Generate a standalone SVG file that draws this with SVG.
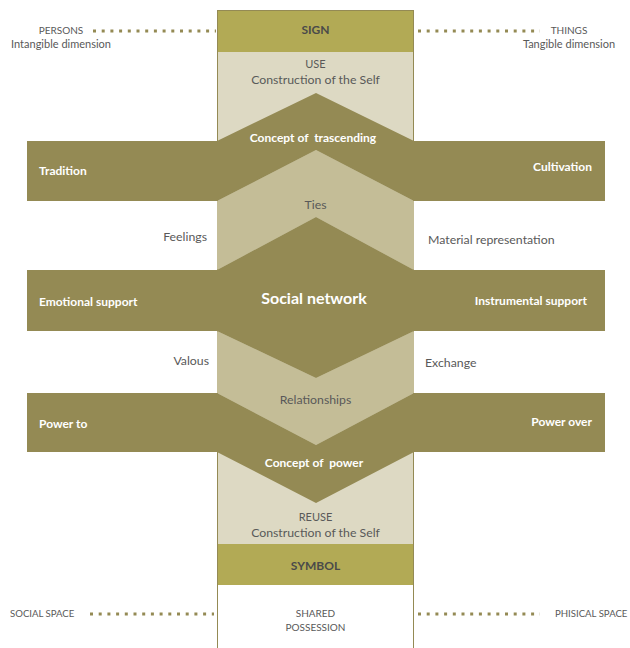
<svg xmlns="http://www.w3.org/2000/svg" width="630" height="648" viewBox="0 0 630 648">
<style>
text{font-family:Lato,"Open Sans","Liberation Sans",sans-serif;}
.g{fill:#595959;font-size:12.3px;}
.c{text-anchor:middle;}
.e{text-anchor:end;}
.w{fill:#ffffff;font-size:12px;font-weight:bold;}
.b{fill:#4a4a4a;font-size:12px;font-weight:bold;}
.olive{fill:#948A54;}
.light{fill:#DDD9C3;}
.mid{fill:#C4BD97;}
.band{fill:#B2AA55;}
.dot{stroke:#948A54;stroke-width:3;stroke-dasharray:3 5.7;fill:none;}
</style>
<rect width="630" height="648" fill="#ffffff"/>
<g id="column">
<rect x="217" y="52" width="197" height="492" class="light"/>
<rect x="217" y="10" width="197" height="42" class="band"/>
<rect x="217" y="544" width="197" height="41" class="band"/>
<rect x="217" y="585" width="197" height="70" fill="#ffffff"/>
<rect x="217.5" y="10.5" width="196" height="650" fill="none" stroke="#948A54" stroke-width="1"/>
</g>
<g id="ties-region"><polygon class="mid" points="217,201 316,150 414,201 414,270 316,217 217,270"/><text class="g c" x="315.5" y="208.5">Ties</text></g>
<g id="relationships-region"><polygon class="mid" points="217,331 316,378 414,331 414,393 316,445 217,393"/><text class="g c" x="315.5" y="404">Relationships</text></g>
<g id="upper-band">
<polygon class="olive" points="27,141 217,141 316,93 414,141 605,141 605,201 414,201 316,150 217,201 27,201"/>
<text class="w c" x="313" y="142" xml:space="preserve">Concept of  trascending</text>
<text class="w" x="39" y="175">Tradition</text>
<text class="w e" x="592" y="171">Cultivation</text>
</g>
<g id="middle-band">
<polygon class="olive" points="27,270 217,270 316,217 414,270 605,270 605,331 414,331 316,378 217,331 27,331"/>
<text class="w c" x="314" y="304" style="font-size:16px">Social network</text>
<text class="w" x="39" y="306">Emotional support</text>
<text class="w e" x="587" y="305">Instrumental support</text>
</g>
<g id="lower-band">
<polygon class="olive" points="27,393 217,393 316,445 414,393 605,393 605,452 414,452 316,503 217,452 27,452"/>
<text class="w c" x="314" y="467" xml:space="preserve">Concept of  power</text>
<text class="w" x="39" y="428">Power to</text>
<text class="w e" x="592" y="426">Power over</text>
</g>
<g id="sign"><text class="b c" x="315.5" y="34">SIGN</text></g>
<g id="use"><text class="g c" x="315.5" y="68" style="font-size:11px">USE</text><text class="g c" x="315.5" y="84">Construction of the Self</text></g>
<g id="reuse"><text class="g c" x="315.5" y="521" style="font-size:11px">REUSE</text><text class="g c" x="315.5" y="537">Construction of the Self</text></g>
<g id="symbol"><text class="b c" x="315.5" y="570">SYMBOL</text></g>
<g id="shared"><text class="g c" x="315.5" y="617" style="font-size:10px">SHARED</text><text class="g c" x="315.5" y="631" style="font-size:10px">POSSESSION</text></g>
<g id="side-labels">
<text class="g e" x="207" y="241">Feelings</text>
<text class="g" x="428" y="244">Material representation</text>
<text class="g e" x="209" y="365">Valous</text>
<text class="g" x="425" y="367">Exchange</text>
</g>
<g id="persons"><text class="g c" x="61" y="34" style="font-size:10px">PERSONS</text><text class="g c" x="61" y="48" style="font-size:11px">Intangible dimension</text></g>
<g id="things"><text class="g c" x="569" y="34" style="font-size:10px">THINGS</text><text class="g c" x="569" y="48" style="font-size:11px">Tangible dimension</text></g>
<g id="social-space"><text class="g" x="10" y="617" style="font-size:9.6px">SOCIAL SPACE</text></g>
<g id="phisical-space"><text class="g" x="555" y="617" style="font-size:9.6px">PHISICAL SPACE</text></g>
<g id="connectors">
<line class="dot" x1="93" y1="31" x2="216" y2="31"/>
<line class="dot" x1="418" y1="31" x2="540" y2="31"/>
<line class="dot" x1="90" y1="614" x2="214" y2="614"/>
<line class="dot" x1="418" y1="614" x2="540" y2="614"/>
</g>
</svg>
